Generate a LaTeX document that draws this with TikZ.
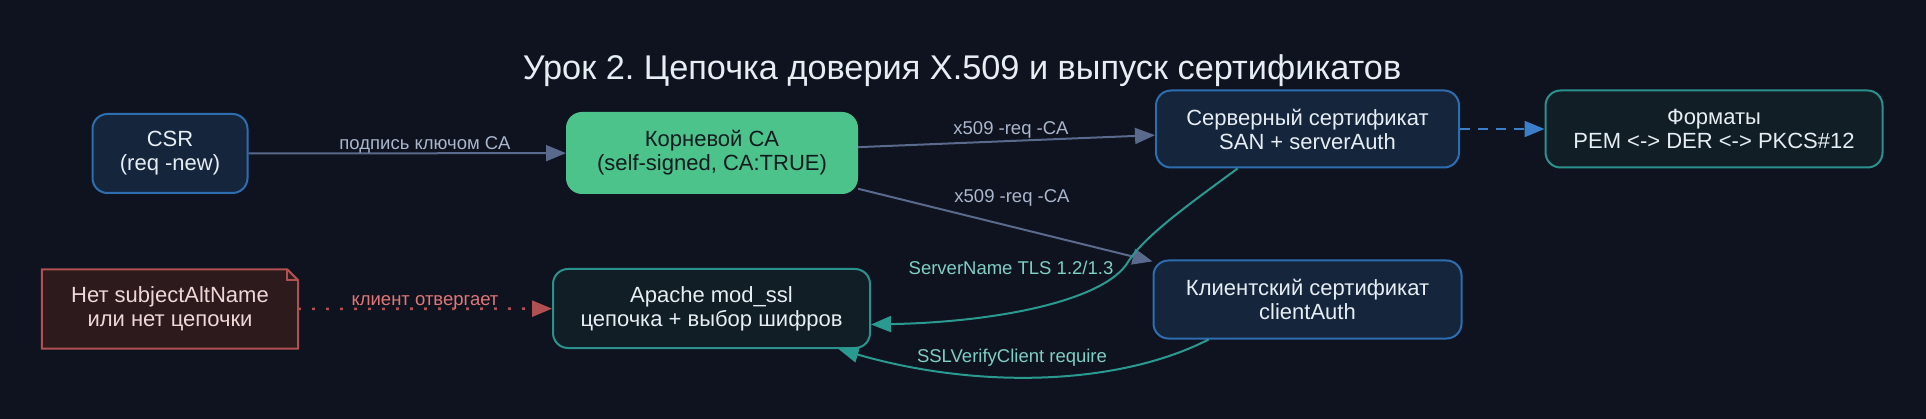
\documentclass[tikz,border=0pt]{standalone}
\usepackage{fontspec}
\setmainfont{Liberation Sans}
\usetikzlibrary{arrows.meta}
\frenchspacing

\definecolor{bgnavy}{HTML}{0F131F}
\definecolor{nodetext}{HTML}{E6EDF3}
\definecolor{bluefill}{HTML}{14253C}
\definecolor{blueline}{HTML}{2E6DB0}
\definecolor{tealfill}{HTML}{121E26}
\definecolor{tealline}{HTML}{2A918C}
\definecolor{rootfill}{HTML}{4CC38A}
\definecolor{roottext}{HTML}{101A1E}
\definecolor{notefill}{HTML}{2C1A1C}
\definecolor{noteline}{HTML}{B05050}
\definecolor{notetext}{HTML}{F0D7D7}
\definecolor{grayedge}{HTML}{5A6A8C}
\definecolor{graylabel}{HTML}{A9B6CC}
\definecolor{tealedge}{HTML}{2A9A90}
\definecolor{teallabel}{HTML}{7FCFC4}
\definecolor{dashblue}{HTML}{3A80C8}
\definecolor{redlabel}{HTML}{E07878}

\begin{document}
\begin{tikzpicture}[x=1pt, y=-1pt,
  every node/.style={font=\fontsize{22}{24}\selectfont, text=nodetext, align=center},
  box/.style={rounded corners=15pt, line width=2pt, inner sep=0pt},
  bluebox/.style={box, draw=blueline, fill=bluefill},
  tealbox/.style={box, draw=tealline, fill=tealfill},
  rootbox/.style={box, draw=rootfill, fill=rootfill, text=roottext},
  notebox/.style={inner sep=0pt, text=notetext},
  edge/.style={line width=2pt, -{Triangle[length=20pt,width=16pt]}},
  lbl/.style={font=\fontsize{18.5}{20}\selectfont, inner sep=0pt, anchor=base}]

\fill[bgnavy] (0,0) rectangle (1926,419);
\useasboundingbox (0,0) rectangle (1926,419);

% title
\path (962,80) node[anchor=base, font=\fontsize{34.3}{36}\selectfont] (title) {Урок 2. Цепочка доверия X.509 и выпуск сертификатов};

% nodes
\path (170,153.5) node[bluebox, minimum width=155pt, minimum height=79pt] (csr) {CSR\\(req -new)};
\path (712,153) node[rootbox, minimum width=290pt, minimum height=80pt] (ca) {Корневой CA\\(self-signed, CA:TRUE)};
\path (1307.5,129) node[bluebox, minimum width=303pt, minimum height=77pt] (server) {Серверный сертификат\\SAN + serverAuth};
\path (1714,129) node[tealbox, minimum width=337pt, minimum height=77pt] (formats) {Форматы\\PEM <-> DER <-> PKCS\#12};
\path (1307.5,299.5) node[bluebox, minimum width=308pt, minimum height=78pt] (client) {Клиентский сертификат\\clientAuth};
\path (711.5,308.5) node[tealbox, minimum width=317pt, minimum height=79pt] (apache) {Apache mod\_ssl\\цепочка + выбор шифров};
\path (170,309) node[notebox, minimum width=256pt, minimum height=79pt] (note) {};

% note outline with folded corner
\filldraw[fill=notefill, draw=noteline, line width=2pt] (note.north west) -- ([xshift=-11pt]note.north east) -- ([yshift=-11pt]note.north east) -- (note.south east) -- (note.south west) -- cycle;
\draw[noteline, line width=2pt] ([xshift=-11pt]note.north east) -- ([xshift=-11pt, yshift=-11pt]note.north east) -- ([yshift=-11pt]note.north east);
\path (note.center) node[notebox] (notetxt) {Нет subjectAltName\\или нет цепочки};

% connectors
\draw[edge, grayedge] (csr) -- (ca);
\draw[edge, grayedge] (ca) -- (server);
\draw[edge, grayedge] (ca) -- (client);
\draw[edge, dashblue, dash pattern=on 10pt off 8pt] (server) -- (formats);
\draw[edge, noteline, line width=2.6pt, dash pattern=on 2.6pt off 11.4pt] (note) -- (apache);
\draw[edge, tealedge] ([xshift=-70pt]server.south) .. controls (1195,200) and (1145,235) .. (1128,262) .. controls (1105,300) and (1000,322) .. ([yshift=-16pt]apache.east);
\draw[edge, tealedge] ([xshift=-99pt]client.south) .. controls (1120,385) and (980,390) .. ([xshift=127pt]apache.south);

% labels
\path (425,150) node[lbl, text=graylabel] (lsign) {подпись ключом CA};
\path (1011,135) node[lbl, text=graylabel] (lsrv) {x509 -req -CA};
\path (1012,203) node[lbl, text=graylabel] (lcli) {x509 -req -CA};
\path (1011,275) node[lbl, text=teallabel] (lsni) {ServerName TLS 1.2/1.3};
\path (1012,362) node[lbl, text=teallabel] (lverify) {SSLVerifyClient require};
\path (425,306) node[lbl, text=redlabel] (lreject) {клиент отвергает};
\end{tikzpicture}
\end{document}
